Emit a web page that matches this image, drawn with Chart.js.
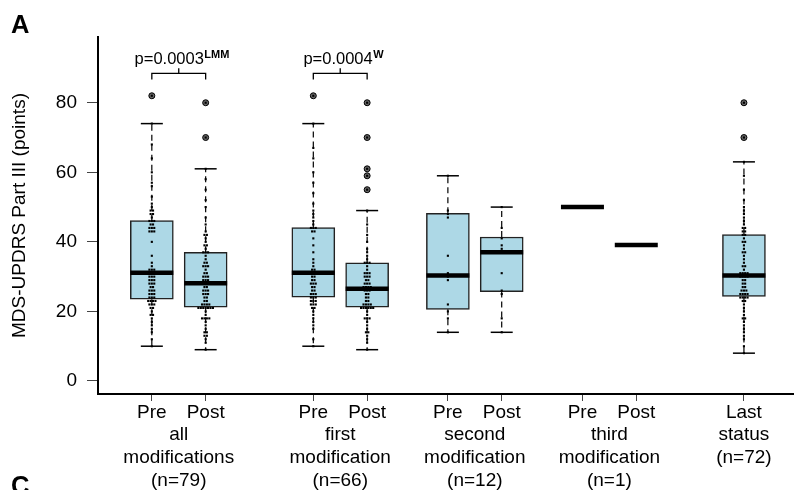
<!DOCTYPE html>
<html><head><meta charset="utf-8">
<script src="https://cdn.jsdelivr.net/npm/chart.js@4.4.1/dist/chart.umd.min.js"></script>
<style>html,body{margin:0;padding:0;background:#fff}#wrap{width:794px;height:490px;position:relative}canvas{display:block}</style>
</head><body><div id="wrap"><canvas id="c" width="794" height="490"></canvas></div>
<script>
// ---------- data ----------
const positions = [0, 1, 3, 4, 5.5, 6.5, 8, 9, 11];
const conditionLabels = [['Pre'], ['Post'], ['Pre'], ['Post'], ['Pre'], ['Post'], ['Pre'], ['Post'], ['Last', 'status', '(n=72)']];
const groupCenters = [0.5, 3.5, 6, 8.5];
const groupLabels = [
  ['all', 'modifications', '(n=79)'],
  ['first', 'modification', '(n=66)'],
  ['second', 'modification', '(n=12)'],
  ['third', 'modification', '(n=1)']
];
const whiskerLow  = [10, 9, 10, 9, 14, 14, 50, 39, 8];
const lowerQuart  = [23.5, 21.2, 24.1, 21.2, 20.6, 25.7, 50, 39, 24.3];
const medians     = [31.1, 28.1, 31.1, 26.5, 30.3, 37.0, 50.0, 39.1, 30.3];
const upperQuart  = [46.1, 37.0, 44.1, 34.0, 48.2, 41.4, 50, 39, 42.1];
const whiskerHigh = [74, 61, 74, 49, 59, 50, 50, 39, 63];
const outliers = [[82], [80, 70], [82], [80, 70, 61, 59, 55], [], [], [], [], [80, 70]];
const obsPreAll = [82,74,68,64,60,57,56,53,51,50,49,49,48,48,47,46,46,46,45,45,
  44,44,44,43,43,43,40,36,34,33,32,32,32,31,31,31,31,31,31,31,
  30,30,30,29,29,29,28,28,28,27,27,26,26,26,25,25,25,24,24,24,
  23,23,23,23,22,22,22,21,21,20,19,19,18,17,16,15,14,12,10];
const obsPostAll = [80,70,61,58,55,52,50,47,45,43,42,42,41,40,39,39,38,37,37,37,
  36,35,34,34,33,33,33,32,31,31,30,30,30,29,29,29,28,28,28,28,
  27,27,26,26,26,25,25,25,24,24,23,23,22,22,22,22,21,21,21,21,
  21,21,21,20,19,18,18,18,18,17,16,15,14,14,13,13,12,11,9];
const obsPreFirst = [82,74,67,64,60,57,54,51,49,48,47,46,45,44,44,44,
  43,43,41,39,37,35,34,33,32,32,31,31,31,31,31,31,31,
  30,30,29,29,28,28,28,27,27,26,26,25,25,25,24,24,24,
  23,23,23,22,22,22,21,21,20,19,18,17,16,15,12,10];
const obsPostFirst = [80,70,61,59,55,49,45,42,40,38,37,36,35,34,34,34,
  33,32,31,31,31,30,30,30,29,29,28,28,28,27,27,27,27,
  26,26,26,25,25,24,24,23,23,22,22,22,22,21,21,21,21,
  21,21,20,19,18,18,18,17,16,15,14,14,13,12,11,9];
const obsPreSecond = [59,49,48,47,36,31,30,29,22,20,18,14];
const obsPostSecond = [50,44,41,39,38,37,37,31,26,25,18,14];
const obsPreThird = [50];
const obsPostThird = [39];
const obsLast = [80,70,63,59,55,52,50,49,48,47,46,45,44,44,43,43,42,42,
  41,40,40,39,38,37,37,36,35,34,33,33,32,31,31,31,31,30,
  30,30,30,29,29,28,28,27,27,26,26,26,25,25,25,25,24,24,
  24,24,23,23,22,21,20,19,18,18,17,16,15,14,13,12,10,8];
const observations = [obsPreAll, obsPostAll, obsPreFirst, obsPostFirst, obsPreSecond, obsPostSecond, obsPreThird, obsPostThird, obsLast];
const bracketFrom = [0, 3];
const bracketTo = [1, 4];
const pTexts = ['p=0.0003', 'p=0.0004'];
const pSups = ['LMM', 'W'];
const yTicks = [0, 20, 40, 60, 80];

// ---------- layout / style constants ----------
const FONT = "'Liberation Sans', Arial, sans-serif";
const BRACKET_LOW = 86.7, BRACKET_HIGH = 88.45, BRACKET_TICK = 89.9, PTEXT_Y = 91.1;
const DOT_STEP = 0.045;

// ---------- build datasets ----------
const boxData = [];
positions.forEach((p, i) => { if (upperQuart[i] > lowerQuart[i]) boxData.push({x: p, y: [lowerQuart[i], upperQuart[i]]}); });

const whiskerData = [];
const capData = [];
positions.forEach((p, i) => {
  if (whiskerHigh[i] > upperQuart[i]) {
    whiskerData.push({x: p, y: upperQuart[i]}, {x: p, y: whiskerHigh[i]}, {x: p, y: null});
    capData.push({x: p, y: whiskerHigh[i]});
  }
  if (whiskerLow[i] < lowerQuart[i]) {
    whiskerData.push({x: p, y: lowerQuart[i]}, {x: p, y: whiskerLow[i]}, {x: p, y: null});
    capData.push({x: p, y: whiskerLow[i]});
  }
});
const medianData = positions.map((p, i) => ({x: p, y: medians[i]}));
const outlierData = [];
positions.forEach((p, i) => outliers[i].forEach(v => outlierData.push({x: p, y: v})));

const dotData = [];
positions.forEach((p, i) => {
  const totals = {}, seen = {};
  observations[i].forEach(v => { totals[v] = (totals[v] || 0) + 1; });
  observations[i].forEach(v => {
    const k = seen[v] || 0; seen[v] = k + 1;
    dotData.push({x: p + (k - (totals[v] - 1) / 2) * DOT_STEP, y: v});
  });
});

const bracketData = [];
bracketFrom.forEach((a, i) => {
  const b = bracketTo[i], m = (a + b) / 2;
  bracketData.push({x: a, y: BRACKET_LOW}, {x: a, y: BRACKET_HIGH}, {x: b, y: BRACKET_HIGH}, {x: b, y: BRACKET_LOW}, {x: b, y: null},
                   {x: m, y: BRACKET_HIGH}, {x: m, y: BRACKET_TICK}, {x: m, y: null});
});

const xTickValues = positions.concat(groupCenters).sort((a, b) => a - b);

const textPlugin = {
  id: 'texts',
  afterDatasetsDraw(chart) {
    const {ctx, scales: {x, y}} = chart;
    ctx.save();
    ctx.fillStyle = '#000';
    ctx.textBaseline = 'alphabetic';
    ctx.textAlign = 'left';
    pTexts.forEach((t, i) => {
      const cx = (x.getPixelForValue(bracketFrom[i]) + x.getPixelForValue(bracketTo[i])) / 2;
      const by = y.getPixelForValue(PTEXT_Y);
      ctx.font = '16.5px ' + FONT;
      const w1 = ctx.measureText(t).width;
      ctx.font = 'bold 11px ' + FONT;
      const w2 = ctx.measureText(pSups[i]).width;
      const start = cx - (w1 + w2) / 2 + 3;
      ctx.font = '16.5px ' + FONT;
      ctx.fillText(t, start, by);
      ctx.font = 'bold 11px ' + FONT;
      ctx.fillText(pSups[i], start + w1 + 0.5, by - 6);
    });
    ctx.font = 'bold 25.5px ' + FONT;
    ctx.fillText('A', 11, 33);
    ctx.fillText('C', 11, 493.5);
    ctx.restore();
  }
};

new Chart(document.getElementById('c'), {
  type: 'bar',
  data: {
    datasets: [
      {type: 'bar', data: boxData, backgroundColor: '#ADD8E6', borderColor: '#222', borderWidth: 1.5,
       borderSkipped: false, barThickness: 43, order: 5},
      {type: 'line', data: whiskerData, borderColor: '#000', borderWidth: 1.2, borderDash: [6, 4],
       pointRadius: 0, spanGaps: false, order: 4},
      {type: 'scatter', data: capData, pointStyle: 'line', pointRadius: 11, borderColor: '#000',
       pointBorderWidth: 1.5, borderWidth: 1.5, order: 4},
      {type: 'line', data: bracketData, borderColor: '#000', borderWidth: 1.3, pointRadius: 0,
       spanGaps: false, order: 4, clip: false},
      {type: 'scatter', data: medianData, pointStyle: 'line', pointRadius: 21.5, borderColor: '#000',
       pointBorderWidth: 4.5, borderWidth: 4.5, order: 3},
      {type: 'scatter', data: outlierData, pointStyle: 'circle', pointRadius: 3, backgroundColor: '#666',
       borderColor: '#000', pointBorderWidth: 1, borderWidth: 1, order: 2},
      {type: 'scatter', data: dotData, pointStyle: 'rect', pointRadius: 1.5, backgroundColor: '#000',
       borderColor: '#000', pointBorderWidth: 0, borderWidth: 0, order: 1}
    ]
  },
  options: {
    responsive: false,
    animation: false,
    events: [],
    layout: {autoPadding: false, padding: {top: 37, left: 0, right: 0, bottom: 0}},
    plugins: {legend: {display: false}, tooltip: {enabled: false}},
    scales: {
      x: {
        type: 'linear', min: -1, max: 11.93, offset: false,
        afterBuildTicks: s => { s.ticks = xTickValues.map(v => ({value: v})); },
        afterFit: s => { s.height = 96; s.paddingLeft = 0; s.paddingRight = 0; },
        grid: {display: true, drawOnChartArea: false, drawTicks: true, offset: false, tickLength: 7,
               tickColor: c => (c.tick && groupCenters.includes(c.tick.value)) ? 'rgba(0,0,0,0)' : '#444', tickWidth: 1},
        border: {display: true, color: '#000', width: 2},
        ticks: {
          autoSkip: false, maxRotation: 0, minRotation: 0, padding: 0, color: '#000',
          font: {family: FONT, size: 19, lineHeight: 1.2},
          callback: v => {
            const i = positions.indexOf(v);
            if (i >= 0) return conditionLabels[i];
            const j = groupCenters.indexOf(v);
            return j >= 0 ? [''].concat(groupLabels[j]) : '';
          }
        }
      },
      y: {
        type: 'linear', min: -3.74, max: 98.9,
        afterBuildTicks: s => { s.ticks = yTicks.map(v => ({value: v})); },
        afterFit: s => { s.width = 98; s.paddingTop = 0; s.paddingBottom = 0; },
        grid: {display: true, drawOnChartArea: false, drawTicks: true, tickLength: 11, tickColor: '#444', tickWidth: 1},
        border: {display: true, color: '#000', width: 2},
        ticks: {padding: 10, color: '#000', font: {family: FONT, size: 19}},
        title: {display: true, text: 'MDS-UPDRS Part III (points)', color: '#000',
                font: {family: FONT, size: 19, lineHeight: 1.2}, padding: {top: 8, bottom: 0}}
      }
    }
  },
  plugins: [textPlugin]
});
</script></body></html>
